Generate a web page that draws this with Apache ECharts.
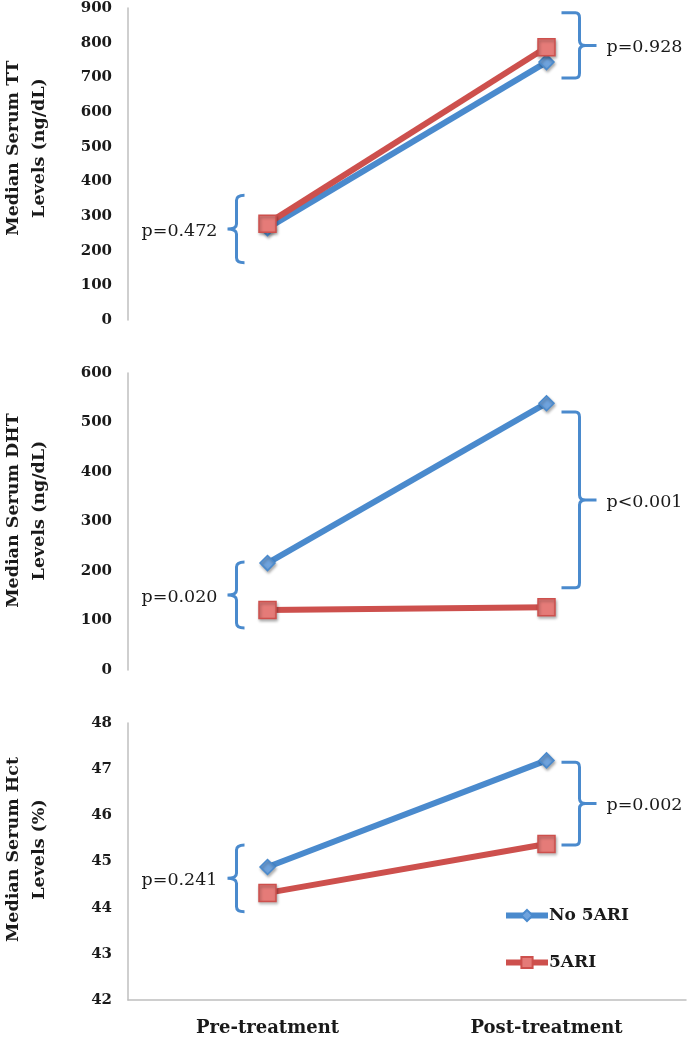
<!DOCTYPE html>
<html>
<head>
<meta charset="utf-8">
<script src="https://cdn.jsdelivr.net/npm/echarts@6/dist/echarts.min.js"></script>
<style>
html,body{margin:0;padding:0;background:#fff;}
#main{width:688px;height:1050px;}
</style>
</head>
<body>
<div id="main"></div>
<script>
// ---- data ----
const categories = ['Pre-treatment', 'Post-treatment'];
const seriesNames = ['No 5ARI', '5ARI'];

const ttNo5ARI = [265, 744];
const tt5ARI = [278, 787];
const dhtNo5ARI = [216, 539];
const dht5ARI = [121, 127];
const hctNo5ARI = [44.88, 47.19];
const hct5ARI = [44.32, 45.38];

const pTT = ['p=0.472', 'p=0.928'];
const pDHT = ['p=0.020', 'p<0.001'];
const pHct = ['p=0.241', 'p=0.002'];

// bracket spans [low, high] per category
const braceTT = [[165, 360], [698, 886]];
const braceDHT = [[85, 218], [166, 521]];
const braceHct = [[43.91, 45.36], [45.36, 47.15]];

const yNames = ['Median Serum TT\nLevels (ng/dL)', 'Median Serum DHT\nLevels (ng/dL)', 'Median Serum Hct\nLevels (%)'];
const yRanges = [[0, 900, 100], [0, 600, 100], [42, 48, 1]];

// ---- styles ----
const BLUE = '#4a8acd';
const RED = '#cd504d';
const SERIF = '"DejaVu Serif", "Liberation Serif", serif';

const grids = [
  {left: 128, right: 2, top: 8, height: 312, outerBoundsMode: 'none', containLabel: false},
  {left: 128, right: 2, top: 373, height: 297, outerBoundsMode: 'none', containLabel: false},
  {left: 128, right: 2, top: 723, height: 277, outerBoundsMode: 'none', containLabel: false}
];

const xAxes = grids.map((g, i) => ({
  type: 'category', gridIndex: i, data: categories, boundaryGap: true,
  axisLine: {show: i === 2, lineStyle: {color: '#bfbfbf', width: 1.5}},
  axisTick: {show: false},
  axisLabel: {show: i === 2, margin: 19, fontFamily: SERIF, fontWeight: 'bold', fontSize: 18, color: '#1a1a1a'},
  splitLine: {show: false}
}));

const nameShift = [32, 22, 24];
const yAxes = grids.map((g, i) => ({
  type: 'value', gridIndex: i, min: yRanges[i][0], max: yRanges[i][1], interval: yRanges[i][2],
  axisLine: {show: true, lineStyle: {color: '#bfbfbf', width: 1.5}},
  axisTick: {show: false},
  splitLine: {show: false},
  axisLabel: {margin: 16, fontFamily: SERIF, fontWeight: 'bold', fontSize: 15, color: '#1a1a1a'},
  name: yNames[i], nameLocation: 'middle', nameGap: 76, nameRotate: 90,
  nameTextStyle: {fontFamily: SERIF, fontWeight: 'bold', fontSize: 17.5, color: '#1a1a1a', lineHeight: 26,
    padding: [0, 0, 0, nameShift[i]]}
}));

function lineSeries(name, data, idx, color, symbol, size, fill) {
  return {
    type: 'line', name: name, data: data, xAxisIndex: idx, yAxisIndex: idx,
    symbol: symbol, symbolSize: size, showAllSymbol: true,
    lineStyle: {color: color, width: 6},
    itemStyle: {color: fill, borderColor: color, borderWidth: 1.5,
      shadowColor: 'rgba(0,0,0,0.3)', shadowBlur: 3, shadowOffsetX: 1, shadowOffsetY: 2},
    z: 3, animation: false
  };
}

function braceSeries(idx, spans, labels) {
  return {
    type: 'custom', xAxisIndex: idx, yAxisIndex: idx, clip: false, animation: false, z: 2,
    data: spans.map((s, c) => [c, s[0], s[1]]),
    renderItem: function (params, api) {
      const c = api.value(0);
      const pTop = api.coord([c, api.value(2)]);
      const pBot = api.coord([c, api.value(1)]);
      const cx = pTop[0], top = pTop[1], bot = pBot[1], mid = (top + bot) / 2;
      let d, tx, align;
      if (c === 0) {
        const vx = cx - 31;
        d = `M ${vx + 8} ${top} Q ${vx} ${top} ${vx} ${top + 5} L ${vx} ${mid - 5} Q ${vx} ${mid} ${vx - 9} ${mid} ` +
            `Q ${vx} ${mid} ${vx} ${mid + 5} L ${vx} ${bot - 5} Q ${vx} ${bot} ${vx + 8} ${bot}`;
        tx = cx - 50; align = 'right';
      } else {
        const vx = cx + 33;
        d = `M ${vx - 18} ${top} L ${vx - 4} ${top} Q ${vx} ${top} ${vx} ${top + 5} L ${vx} ${mid - 5} Q ${vx} ${mid} ${vx + 6} ${mid} L ${vx + 17} ${mid} ` +
            `M ${vx} ${mid + 5} Q ${vx} ${mid} ${vx + 6} ${mid} ` +
            `M ${vx} ${mid + 5} L ${vx} ${bot - 5} Q ${vx} ${bot} ${vx - 4} ${bot} L ${vx - 18} ${bot}`;
        tx = cx + 60; align = 'left';
      }
      return {
        type: 'group',
        children: [
          {type: 'path', shape: {pathData: d}, style: {stroke: BLUE, fill: null, lineWidth: 3}},
          {type: 'text', style: {text: labels[c], x: tx, y: mid + 2, align: align, verticalAlign: 'middle',
            font: '17.5px ' + SERIF, fill: '#1a1a1a'}}
        ]
      };
    }
  };
}

const series = [
  lineSeries(seriesNames[0], ttNo5ARI, 0, BLUE, 'diamond', 15, '#6fa3dd'),
  lineSeries(seriesNames[1], tt5ARI, 0, RED, 'rect', 17, '#e57b78'),
  lineSeries(seriesNames[0], dhtNo5ARI, 1, BLUE, 'diamond', 15, '#6fa3dd'),
  lineSeries(seriesNames[1], dht5ARI, 1, RED, 'rect', 17, '#e57b78'),
  lineSeries(seriesNames[0], hctNo5ARI, 2, BLUE, 'diamond', 15, '#6fa3dd'),
  lineSeries(seriesNames[1], hct5ARI, 2, RED, 'rect', 17, '#e57b78'),
  braceSeries(0, braceTT, pTT),
  braceSeries(1, braceDHT, pDHT),
  braceSeries(2, braceHct, pHct)
];

const chart = echarts.init(document.getElementById('main'), null, {renderer: 'canvas'});
chart.setOption({
  backgroundColor: '#ffffff',
  animation: false,
  grid: grids,
  xAxis: xAxes,
  yAxis: yAxes,
  legend: {
    data: seriesNames, orient: 'vertical', left: 503, top: 907, itemGap: 30, padding: 0,
    itemWidth: 42, itemHeight: 14,
    lineStyle: {width: 6},
    textStyle: {fontFamily: SERIF, fontWeight: 'bold', fontSize: 17, color: '#1a1a1a', padding: [0, 0, 0, -4]}
  },
  series: series
});
</script>
</body>
</html>
